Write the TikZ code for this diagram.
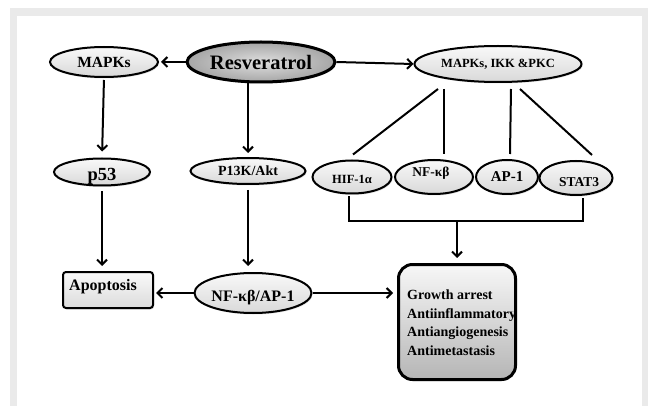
\documentclass[tikz,border=0pt]{standalone}
\usepackage{fontspec}
\setmainfont{Liberation Serif}
\usetikzlibrary{shapes.geometric,arrows.meta,shadows}
\definecolor{framegray}{RGB}{234,234,234}
\begin{document}
\begin{tikzpicture}[x=1pt,y=-1pt,
  font=\bfseries,
  shad/.style={drop shadow={opacity=0.22,shadow xshift=1pt,shadow yshift=-1.5pt}},
  pill/.style={ellipse, draw=black, line width=2pt, inner sep=0pt,
    top color=gray!5, bottom color=gray!30, shad},
  txt/.style={inner sep=0pt},
  line/.style={line width=2pt},
  arr/.style={line width=2pt, -{Straight Barb[length=5pt,width=10pt]}},
]
\useasboundingbox (0,0) rectangle (648,406);
\fill[framegray] (10,8) rectangle (648,406);
\fill[white] (17,16) rectangle (642,406);

% top row
\node[pill, minimum width=108pt, minimum height=30pt, font=\fontsize{15.5}{17}\bfseries] (mapk) at (104,62) {MAPKs};
\node[ellipse, draw=black, line width=3pt, inner sep=0pt, minimum width=148pt, minimum height=40pt,
  shading=radial, inner color=gray!25, outer color=gray!70, shad,
  font=\fontsize{20.5}{22}\bfseries] (res) at (261,62) {Resveratrol};
\node[pill, minimum width=167pt, minimum height=36pt, font=\fontsize{12.5}{14}\bfseries] (mik) at (498,64) {MAPKs, IKK \&PKC};

% middle row
\node[pill, minimum width=96pt, minimum height=27pt] (p53) at (102,172) {};
\node[txt, font=\fontsize{18.5}{20}\bfseries] (p53t) at ([yshift=-4pt]p53.center) {p53};
\node[pill, minimum width=115pt, minimum height=26pt, font=\fontsize{14}{16}\bfseries] (pik) at (248,171) {P13K/Akt};

\node[pill, minimum width=79pt, minimum height=33pt] (hif) at (352,177) {};
\node[txt, font=\fontsize{12.5}{14}\bfseries] (hift) at ([yshift=-2pt]hif.center) {HIF-1α};
\node[pill, minimum width=78pt, minimum height=34pt] (nfk) at (434,177) {};
\node[txt, font=\fontsize{13.5}{15}\bfseries] (nfkt) at ([xshift=-3pt,yshift=4pt]nfk.center) {NF-κβ};
\node[pill, minimum width=62pt, minimum height=34pt, font=\fontsize{15}{17}\bfseries] (ap1) at (507,177) {AP-1};
\node[pill, minimum width=73pt, minimum height=34pt] (stat) at (576,178) {};
\node[txt, font=\fontsize{13.5}{15}\bfseries] (statt) at ([xshift=3pt,yshift=-4pt]stat.center) {STAT3};

% bottom row
\node[rectangle, rounded corners=3pt, draw=black, line width=2pt, top color=gray!4, bottom color=gray!28,
  minimum width=90pt, minimum height=36pt, shad] (apo) at (108,290) {};
\node[txt, font=\fontsize{16}{18}\bfseries] (apot) at ([xshift=-5pt,yshift=3pt]apo.center) {Apoptosis};
\node[pill, minimum width=117pt, minimum height=40pt] (nfap) at (253,293) {};
\node[txt, font=\fontsize{16}{18}\bfseries] (nfapt) at ([yshift=-5pt]nfap.center) {NF-κβ/AP-1};

\node[rectangle, rounded corners=14pt, draw=black, line width=3pt, top color=gray!6, bottom color=gray!58,
  minimum width=117pt, minimum height=115pt, shad] (out) at (457,322) {};
\node[txt, anchor=west, align=left, font=\fontsize{14}{18.5}\bfseries] (outt) at (407,322.5)
  {Growth arrest\\Antiinflammatory\\Antiangiogenesis\\Antimetastasis};

% connectors
\draw[arr, shorten >=2pt] (res.west) -- (mapk.east);
\draw[arr] (res.east) -- (mik.west);
\draw[arr, shorten <=2pt, shorten >=6pt] (mapk.south) -- (p53.north);
\draw[arr, shorten >=4pt] (res.south -| pik.north) -- (pik.north);
\draw[arr, shorten <=5pt, shorten >=5pt] (p53.south) -- (p53.south |- apo.north);
\draw[arr, shorten <=5pt, shorten >=6pt] (pik.south) -- (pik.south |- nfap.north);
\draw[arr, shorten >=2pt] (nfap.west) -- (nfap.west -| apo.east);
\draw[arr, shorten >=4pt] (nfap.east) -- (nfap.east -| out.west);

\draw[line] ([shift={(-60pt,-6pt)}]mik.south) -- ([shift={(1pt,5pt)}]hif.north);
\draw[line] ([shift={(-54pt,-6pt)}]mik.south) -- ([shift={(10pt,5pt)}]nfk.north);
\draw[line] ([shift={(13pt,-6pt)}]mik.south) -- ([shift={(3pt,5pt)}]ap1.north);
\draw[line] ([shift={(22pt,-6pt)}]mik.south) -- ([shift={(16pt,5pt)}]stat.north);

\draw[line] ([shift={(-3pt,-2pt)}]hif.south) -- ++(0,25) coordinate (brl) -| ([shift={(7pt,-2pt)}]stat.south);
\coordinate (brm) at (brl -| out.north);
\draw[arr, shorten >=5pt] (brm) -- (out.north);
\end{tikzpicture}
\end{document}
